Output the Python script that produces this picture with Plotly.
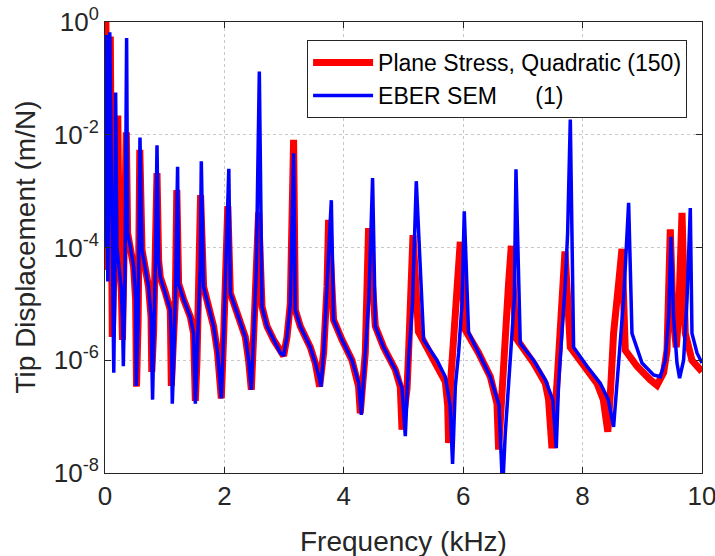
import plotly.graph_objects as go

# ---- data (frequency in kHz, tip displacement in m/N) ----
red_freq = [0, 0.013, 0.047, 0.089, 0.122, 0.214, 0.24, 0.275, 0.293, 0.357,
            0.379, 0.424, 0.479, 0.513, 0.528, 0.555, 0.583,
            0.620, 0.675, 0.730, 0.771, 0.784, 0.814, 0.843, 0.871,
            0.898, 0.926, 1.010, 1.094, 1.111, 1.15, 1.178, 1.203,
            1.233, 1.317, 1.429, 1.484, 1.500, 1.513, 1.541, 1.568, 1.585, 1.601,
            1.652, 1.735, 1.819, 1.886, 1.948, 1.987, 2.032, 2.057,
            2.099, 2.211, 2.350, 2.405, 2.451, 2.489, 2.534, 2.573,
            2.630, 2.714, 2.824, 2.936, 2.992, 3.049, 3.104, 3.159,
            3.188, 3.271, 3.439, 3.523, 3.595, 3.662, 3.719, 3.745,
            3.829, 3.970, 4.137, 4.248, 4.276, 4.360, 4.399, 4.415,
            4.528, 4.667, 4.863, 4.946, 4.975, 5.06, 5.085, 5.13, 5.159,
            5.25, 5.561, 5.70, 5.74, 5.755, 5.784, 5.839, 5.896, 5.951,
            6.03, 6.258, 6.454, 6.566, 6.593, 6.650, 6.705, 6.760, 6.806,
            6.88, 7.179, 7.375, 7.430, 7.487, 7.571, 7.626, 7.705,
            7.794, 8.045, 8.241, 8.347, 8.422, 8.47, 8.519, 8.603, 8.660,
            8.715, 8.911, 9.134, 9.246, 9.357, 9.414, 9.469,
            9.514, 9.569, 9.608, 9.665,
            9.720, 9.832, 9.971, 10.0]
red_disp = [7.9e-5, 2.0, 4.0e-5, 5.5e-1, 2.6e-6, 2.2e-2, 6.3e-5, 1.6e-5, 2.3e-6, 1.1e-2,
            1.8e-4, 1.05e-4, 4.6e-5, 1.2e-5, 3.4e-7, 5.0e-6, 5.4e-3,
            9.1e-5, 4.6e-5, 2.0e-5, 5.9e-6, 6.2e-7, 3.1e-6, 4.6e-5, 2.1e-3,
            6.0e-5, 3.0e-5, 1.6e-5, 7.8e-6, 3.5e-7, 2.5e-6, 1.2e-5, 1.05e-3,
            2.3e-5, 1.2e-5, 5.9e-6, 3.0e-6, 1.0e-6, 1.9e-7, 1.0e-6, 1.2e-5, 5.0e-5, 8.5e-4,
            2.0e-5, 8.9e-6, 4.0e-6, 1.35e-6, 2.1e-7, 2.6e-6, 7.9e-5, 5.4e-4,
            1.55e-5, 6.9e-6, 2.6e-6, 1.0e-6, 3.0e-7, 2.6e-6, 4.0e-5, 4.2e-4,
            8.9e-6, 4.0e-6, 2.3e-6, 1.35e-6, 1.2e-6, 2.6e-6, 1.0e-5, 8.1e-3,
            7.8e-6, 4.0e-6, 1.7e-6, 8.9e-7, 3.4e-7, 1.35e-6, 2.0e-5, 3.1e-4,
            5.2e-6, 2.3e-6, 1.0e-6, 3.4e-7, 1.15e-7, 1.35e-6, 2.0e-5, 2.2e-4,
            4.0e-6, 1.7e-6, 6.8e-7, 3.4e-7, 5.9e-8, 3.2e-7, 1.35e-6, 1.6e-5, 1.66e-4,
            3.2e-6, 8.3e-7, 4.2e-7, 1.6e-7, 3.4e-8, 3.4e-7, 2.6e-6, 2.0e-5, 1.26e-4,
            3.5e-6, 1.35e-6, 5.1e-7, 1.7e-7, 2.6e-8, 3.9e-7, 3.0e-6, 2.3e-5, 1.07e-4,
            2.5e-6, 8.9e-7, 3.9e-7, 2.0e-7, 2.75e-8, 3.9e-7, 3.0e-6, 8.5e-5,
            1.7e-6, 7.8e-7, 3.9e-7, 2.0e-7, 5.4e-8, 3.2e-7, 3.0e-6, 2.3e-5, 9.5e-5,
            1.5e-6, 7.8e-7, 4.5e-7, 3.6e-7, 6.0e-7, 1.5e-6, 2.1e-4,
            5.9e-6, 1.7e-6, 5.9e-6, 4.1e-4,
            3.0e-6, 1.0e-6, 6.8e-7, 6.3e-7]

blue_freq = [0, 0.027, 0.047, 0.080, 0.147, 0.165, 0.178,
             0.20, 0.27, 0.295, 0.307, 0.335, 0.362,
             0.379, 0.424, 0.479, 0.513, 0.524, 0.555, 0.586,
             0.620, 0.675, 0.730, 0.771, 0.797, 0.814, 0.843, 0.871,
             0.898, 0.926, 1.010, 1.094, 1.115, 1.127, 1.149, 1.178, 1.216,
             1.233, 1.317, 1.429, 1.484, 1.500, 1.513, 1.541, 1.568, 1.596, 1.613,
             1.652, 1.735, 1.819, 1.886, 1.948, 1.987, 2.032, 2.074,
             2.099, 2.211, 2.350, 2.405, 2.451, 2.489, 2.534, 2.585,
             2.630, 2.714, 2.824, 2.936, 2.992, 3.049, 3.104, 3.159,
             3.188, 3.271, 3.439, 3.523, 3.595, 3.618, 3.662, 3.719, 3.791,
             3.829, 3.970, 4.137, 4.248, 4.293, 4.360, 4.420, 4.482,
             4.528, 4.667, 4.863, 4.975, 5.030, 5.085, 5.15, 5.214,
             5.337, 5.561, 5.700, 5.78, 5.822, 5.868, 5.923, 5.980, 6.018,
             6.090, 6.258, 6.454, 6.60, 6.660, 6.705, 6.760, 6.817, 6.856, 6.884,
             6.956, 7.179, 7.375, 7.50, 7.559, 7.598, 7.655, 7.710, 7.749, 7.794,
             7.849, 8.074, 8.296, 8.430, 8.519, 8.576, 8.631, 8.687, 8.771,
             8.827, 8.995, 9.189, 9.302, 9.385, 9.441, 9.481,
             9.524, 9.581, 9.625, 9.692, 9.749, 9.804,
             9.832, 9.916, 10.0]
blue_disp = [1.0e-4, 5.9e-1, 2.5e-5, 6.6e-1, 6.0e-7, 3.2e-5, 5.6e-2,
             1.0e-4, 2.0e-5, 5.0e-6, 7.8e-7, 3.2e-5, 5.2e-1,
             1.8e-4, 1.05e-4, 4.6e-5, 1.2e-5, 3.5e-7, 5.0e-6, 8.9e-3,
             9.1e-5, 4.6e-5, 2.0e-5, 5.9e-6, 2.0e-7, 1.6e-6, 4.6e-5, 6.5e-3,
             6.0e-5, 3.0e-5, 1.6e-5, 7.8e-6, 1.6e-6, 1.7e-7, 7.8e-7, 1.2e-5, 2.7e-3,
             2.3e-5, 1.2e-5, 5.9e-6, 3.0e-6, 1.0e-6, 1.7e-7, 1.0e-6, 1.2e-5, 5.0e-5, 3.4e-3,
             2.0e-5, 8.9e-6, 4.0e-6, 1.35e-6, 2.1e-7, 2.6e-6, 7.9e-5, 2.5e-3,
             1.55e-5, 6.9e-6, 2.6e-6, 1.0e-6, 3.0e-7, 2.6e-6, 4.0e-5, 1.32e-1,
             8.9e-6, 4.0e-6, 2.3e-6, 1.35e-6, 1.2e-6, 2.6e-6, 1.0e-5, 4.7e-3,
             7.8e-6, 4.0e-6, 1.7e-6, 8.9e-7, 4.5e-7, 3.4e-7, 1.35e-6, 2.0e-5, 6.9e-4,
             5.2e-6, 2.3e-6, 1.0e-6, 4.0e-7, 1.07e-7, 1.35e-6, 1.26e-5, 1.7e-3,
             4.0e-6, 1.7e-6, 6.8e-7, 3.2e-7, 4.5e-8, 1.0e-6, 1.0e-5, 1.5e-3,
             2.3e-6, 1.0e-6, 5.1e-7, 1.6e-7, 1.45e-8, 3.4e-7, 1.35e-6, 1.0e-5, 4.4e-4,
             3.1e-6, 1.35e-6, 5.1e-7, 1.6e-7, 5.0e-9, 5.1e-8, 3.9e-7, 3.0e-6, 1.2e-5, 2.45e-3,
             2.0e-6, 1.0e-6, 4.5e-7, 2.0e-7, 2.75e-8, 3.9e-7, 3.0e-6, 2.3e-5, 1.8e-4, 1.86e-2,
             1.7e-6, 7.8e-7, 3.9e-7, 2.0e-7, 6.6e-8, 3.9e-7, 3.0e-6, 1.2e-5, 6.2e-4,
             3.0e-6, 8.9e-7, 5.5e-7, 5.1e-7, 1.0e-6, 5.9e-6, 1.55e-4,
             5.9e-6, 8.9e-7, 4.8e-7, 1.0e-6, 1.2e-5, 5.0e-4,
             3.0e-6, 1.35e-6, 8.9e-7]

red_name = "Plane Stress, Quadratic (150)"
blue_name = "EBER SEM\u00a0\u00a0\u00a0\u00a0\u00a0\u00a0(1)"

x_ticks = [0, 2, 4, 6, 8, 10]
y_ticks = [1e-8, 1e-6, 1e-4, 1e-2, 1e0]
y_ticktext = ["10<sup>-8</sup>", "10<sup>-6</sup>", "10<sup>-4</sup>", "10<sup>-2</sup>", "10<sup>0</sup>"]
x_title = "Frequency (kHz)"
y_title = "Tip Displacement (m/N)"

FONT = "Liberation Sans, Arial, Helvetica, sans-serif"
AX = "#262626"

fig = go.Figure()
fig.add_trace(go.Scatter(x=red_freq, y=red_disp, mode="lines", name=red_name,
                         line=dict(color="#ff0000", width=7)))
fig.add_trace(go.Scatter(x=blue_freq, y=blue_disp, mode="lines", name=blue_name,
                         line=dict(color="#0000ff", width=3.5)))

fig.update_layout(
    width=715, height=556,
    margin=dict(l=105, r=13, t=22, b=83, autoexpand=False),
    paper_bgcolor="white", plot_bgcolor="white",
    font=dict(family=FONT, color=AX),
    showlegend=True,
    legend=dict(x=0.975, xanchor="right", y=0.96, yanchor="top",
                bgcolor="white", bordercolor=AX, borderwidth=1,
                font=dict(family=FONT, size=23, color="black"),
                tracegroupgap=0, itemwidth=60),
    annotations=[
        dict(text=x_title, xref="paper", yref="paper", x=0.5, y=-0.151,
             xanchor="center", yanchor="middle", showarrow=False,
             font=dict(family=FONT, size=28, color=AX)),
        dict(text=y_title, xref="paper", yref="paper", x=-0.134, y=0.5,
             xanchor="center", yanchor="middle", showarrow=False, textangle=-90,
             font=dict(family=FONT, size=28, color=AX)),
    ],
)
fig.update_xaxes(
    range=[0, 10], tickvals=x_ticks, ticktext=[str(v) for v in x_ticks],
    showline=True, linecolor=AX, linewidth=1, mirror="ticks",
    ticks="inside", ticklen=6, tickcolor=AX, automargin=False,
    ticklabeloverflow="allow",
    showgrid=True, gridcolor="#c8c8c8", griddash="dot", gridwidth=1,
    zeroline=False, tickfont=dict(size=26, color=AX),
)
fig.update_yaxes(
    type="log", range=[-8, 0], tickvals=y_ticks, ticktext=y_ticktext,
    showline=True, linecolor=AX, linewidth=1, mirror="ticks",
    ticks="inside", ticklen=6, tickcolor=AX, automargin=False,
    ticklabeloverflow="allow",
    showgrid=True, gridcolor="#c8c8c8", griddash="dot", gridwidth=1,
    zeroline=False, tickfont=dict(size=26, color=AX),
)

fig.write_html("out.html")
